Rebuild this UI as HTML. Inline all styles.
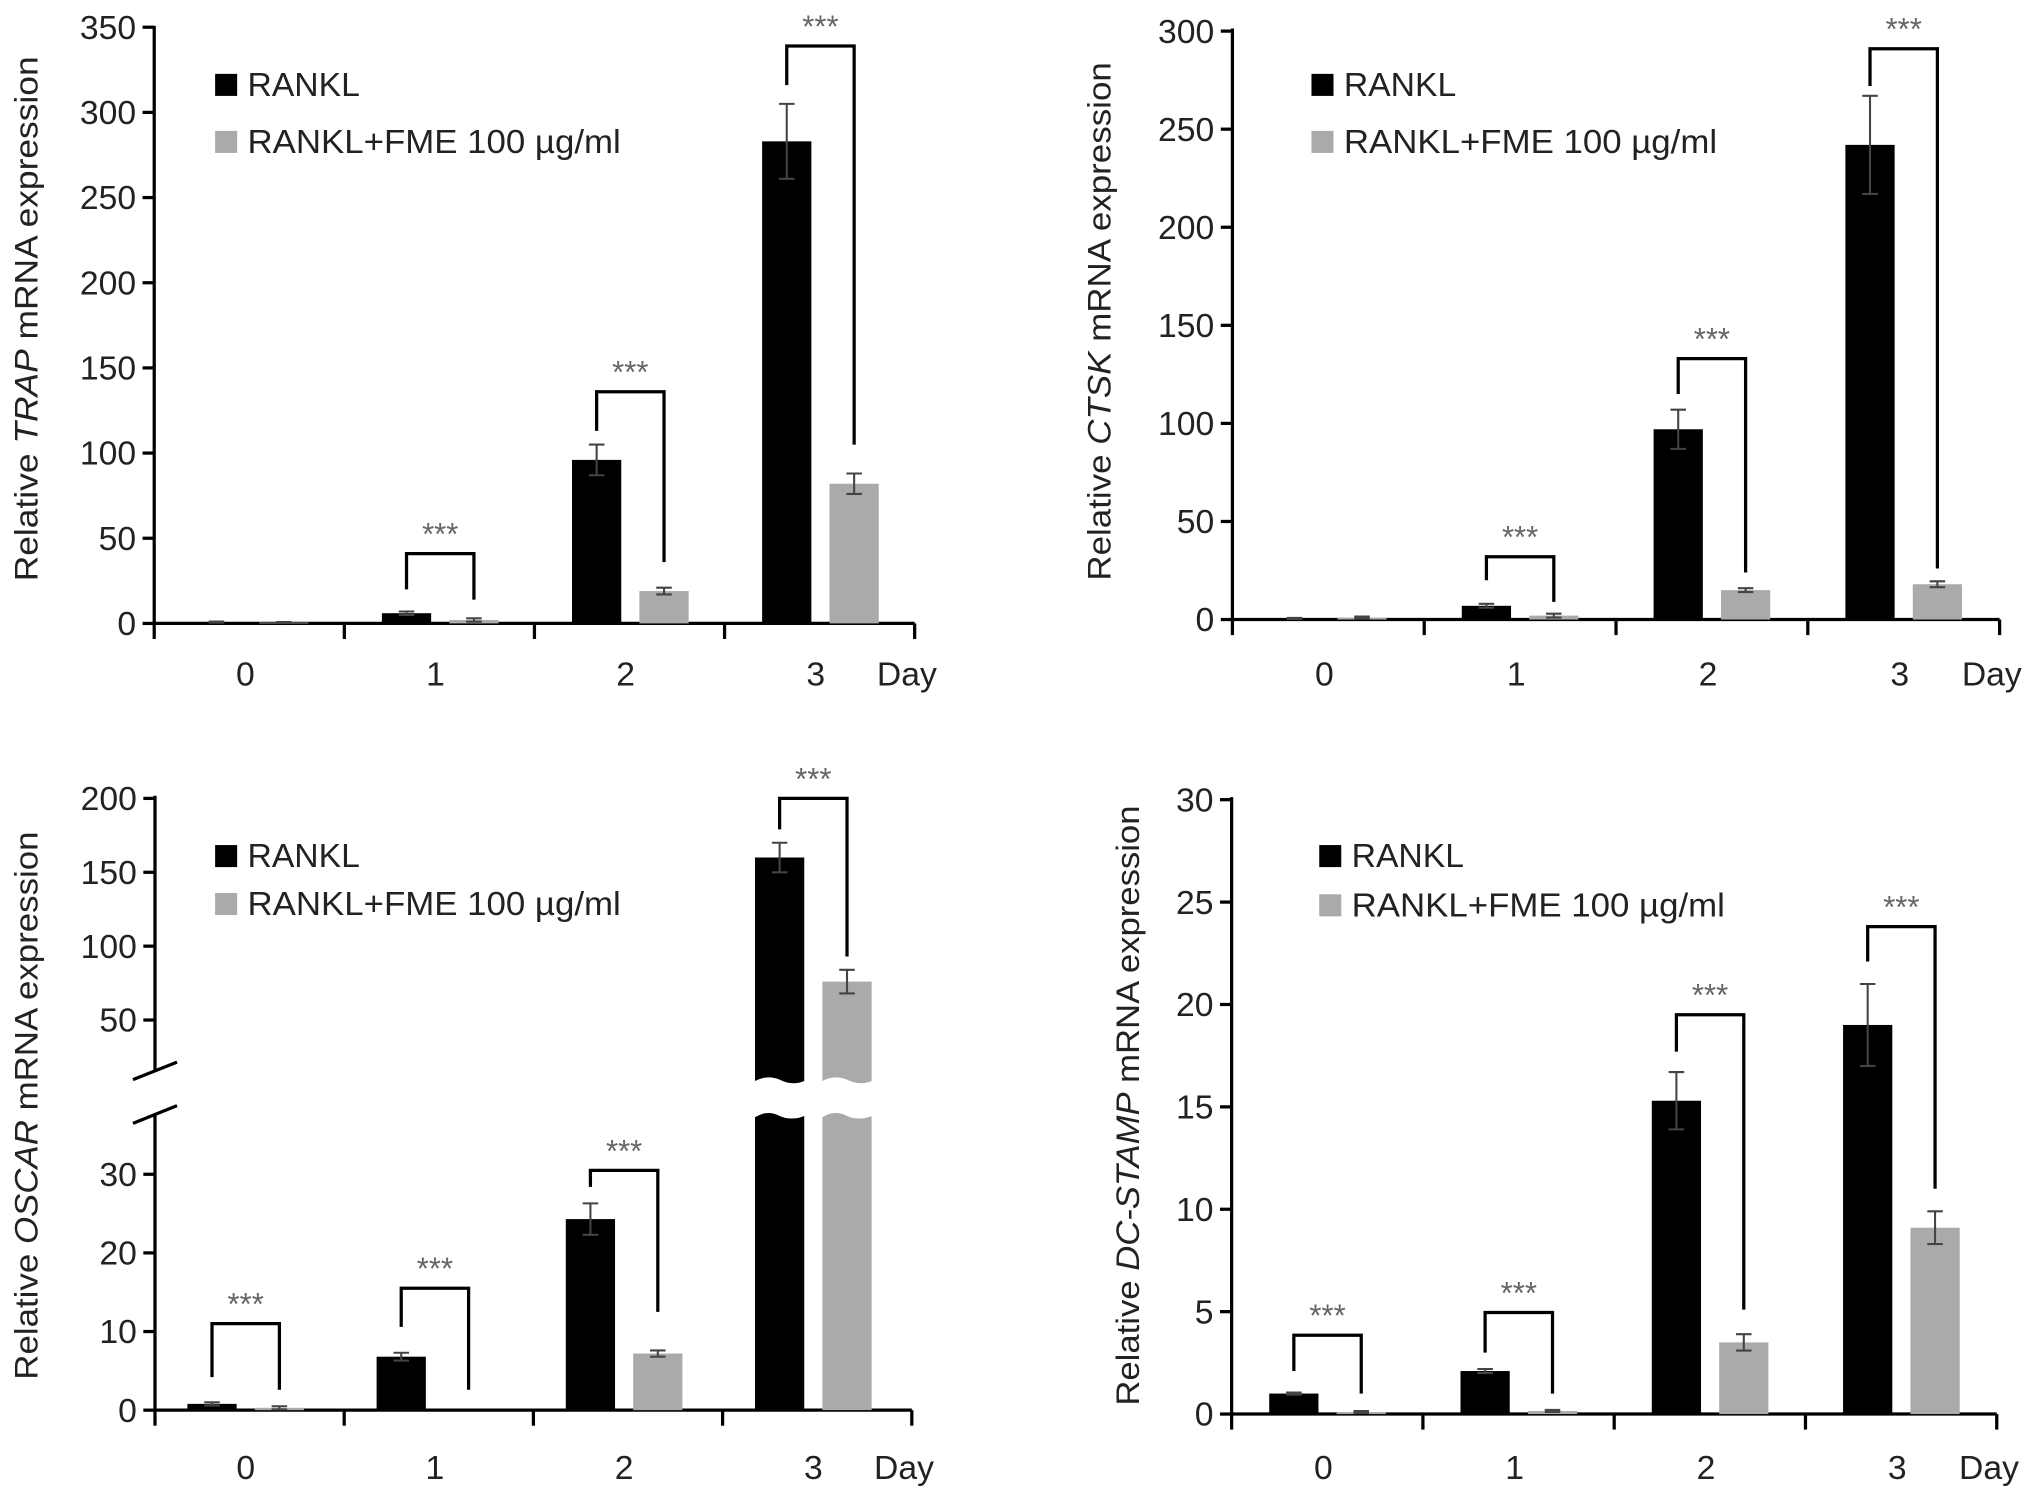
<!DOCTYPE html>
<html><head><meta charset="utf-8"><style>
html,body{margin:0;padding:0;background:#fff;}
svg{display:block;}
text{font-family:"Liberation Sans",sans-serif;}
</style></head><body>
<svg id="fig" width="2032" height="1497" viewBox="0 0 1568 1155" preserveAspectRatio="none" xmlns="http://www.w3.org/2000/svg"></svg>
<script>
const days = ["0","1","2","3"];
// Panel A: TRAP
const trapRankl = [0.8, 6, 96, 283];
const trapRanklErr = [0.3, 1, 9, 22];
const trapFme = [0.5, 2, 19, 82];
const trapFmeErr = [0.3, 1, 2, 6];
const trapTicks = [0,50,100,150,200,250,300,350];
const trapBrTop = [null, 41, 136, 339];
const trapBrL = [null, 20, 113, 316];
const trapBrR = [null, 14, 36, 105];
// Panel B: CTSK
const ctskRankl = [0.5, 7, 97, 242];
const ctskRanklErr = [0.3, 1, 10, 25];
const ctskFme = [1, 2, 15, 18];
const ctskFmeErr = [0.5, 1, 1, 1.5];
const ctskTicks = [0,50,100,150,200,250,300];
const ctskBrTop = [null, 32, 133, 291];
const ctskBrL = [null, 20, 115, 272];
const ctskBrR = [null, 9, 24, 26];
// Panel C: OSCAR (broken axis)
const oscarRankl = [0.8, 6.8, 24.3, 160];
const oscarRanklErr = [0.2, 0.5, 2, 10];
const oscarFme = [0.3, 0, 7.2, 76];
const oscarFmeErr = [0.2, 0, 0.4, 8];
const oscarTicksLow = [0,10,20,30];
const oscarTicksHigh = [50,100,150,200];
const oscarBrTop = [11, 15.5, 30.5, 200];
const oscarBrL = [4.2, 10.6, 28.4, 179];
const oscarBrR = [2.6, 2.6, 12.5, 93];
// Panel D: DC-STAMP
const dcRankl = [1.0, 2.1, 15.3, 19];
const dcRanklErr = [0.05, 0.1, 1.4, 2];
const dcFme = [0.1, 0.15, 3.5, 9.1];
const dcFmeErr = [0.05, 0.05, 0.4, 0.8];
const dcTicks = [0,5,10,15,20,25,30];
const dcBrTop = [3.85, 4.96, 19.5, 23.8];
const dcBrL = [2.1, 3.0, 17.7, 22.1];
const dcBrR = [1.0, 1.0, 5.1, 11.0];

const NS="http://www.w3.org/2000/svg";
const svg=document.getElementById('fig');
function mk(tag, attrs, parent){
  const e=document.createElementNS(NS,tag);
  for(const k in attrs) e.setAttribute(k, attrs[k]);
  (parent||svg).appendChild(e);
  return e;
}

function panel(p){
  const g=mk('g',{});
  
  
  const x0=p.x0, gw=p.gw, y=p.y;
  const yb=p.yBase;
  if(p.broken){
    const a1=mk('line',{x1:x0,y1:p.yTop,x2:x0,y2:827,stroke:'#000','stroke-width':2.5},g);
    
    
    const a2=mk('line',{x1:x0,y1:860,x2:x0,y2:yb,stroke:'#000','stroke-width':2.5},g);
    
    
    const s1=mk('line',{x1:x0-17,y1:833,x2:x0+17,y2:819.5,stroke:'#000','stroke-width':2.5},g);
    
    
    const s2=mk('line',{x1:x0-17,y1:866.7,x2:x0+17,y2:853,stroke:'#000','stroke-width':2.5},g);
    
    
  } else {
    const a=mk('line',{x1:x0,y1:p.yTop,x2:x0,y2:yb,stroke:'#000','stroke-width':2.5},g);
    
    
  }
  const xa=mk('line',{x1:x0,y1:yb,x2:x0+4*gw,y2:yb,stroke:'#000','stroke-width':2.5},g);
  
  
  for(let i=0;i<=4;i++){
    const t=mk('line',{x1:x0+i*gw,y1:yb,x2:x0+i*gw,y2:yb+12,stroke:'#000','stroke-width':2.5},g);
    
    
  }
  p.ticks.forEach(v=>{
    const ty=y(v);
    const t=mk('line',{x1:x0-9,y1:ty,x2:x0,y2:ty,stroke:'#000','stroke-width':2.5},g);
    
    
    const tl=mk('text',{x:x0-14,y:ty+9,'text-anchor':'end','font-size':26,fill:'#222'},g);
    tl.textContent=v;
    
    
  });
  days.forEach((d,i)=>{
    const t=mk('text',{x:x0+i*gw+gw/2-3,y:p.xLabY,'text-anchor':'middle','font-size':26,fill:'#222'},g);
    t.textContent=d;
    
    
  });
  const dl=mk('text',{x:x0+4*gw-6,y:p.xLabY,'text-anchor':'middle','font-size':26,fill:'#222'},g);
  dl.textContent='Day';
  
  
  const tt=mk('text',{x:0,y:0,'text-anchor':'middle','font-size':25,fill:'#222',transform:`translate(${p.titleX},${p.titleY}) rotate(-90)`,textLength:p.titleLen,lengthAdjust:'spacingAndGlyphs'},g);
  
  
  tt.appendChild(document.createTextNode('Relative '));
  const it=mk('tspan',{'font-style':'italic'},tt); it.textContent=p.gene;
  tt.appendChild(document.createTextNode(' mRNA expression'));
  const lg=mk('g',{},g);
  
  
  [['#000','RANKL',p.legY1,null],['#aaa','RANKL+FME 100 µg/ml',p.legY2,288]].forEach((e,k)=>{
    const r=mk('rect',{x:p.legX,y:e[2]-16,width:17,height:17,fill:e[0]},lg);
    
    
    const at={x:p.legX+25,y:e[2]+1,'font-size':26,fill:'#222'};
    if(e[3]){at.textLength=e[3];at.lengthAdjust='spacingAndGlyphs';}
    const t=mk('text',at,lg);
    t.textContent=e[1];
    
    
  });
  const bw=38;
  [[p.a,p.ae,'#000',p.offA,'rankl'],[p.b,p.be,'#aaa',p.offB,'fme']].forEach(s=>{
    s[0].forEach((v,i)=>{
      const bx=x0+i*gw+s[3];
      const top=y(v);
      if(p.broken && v>36){
        const r1=mk('path',{d:`M${bx},${yb} L${bx},${862} Q${bx+bw*0.25},${856} ${bx+bw/2},${861} Q${bx+bw*0.75},${865} ${bx+bw},${861} L${bx+bw},${yb} Z`,fill:s[2]},g);
        
        
        const r2=mk('path',{d:`M${bx},${top} L${bx+bw},${top} L${bx+bw},${834} Q${bx+bw*0.75},${838} ${bx+bw/2},${833} Q${bx+bw*0.25},${829} ${bx},${834} Z`,fill:s[2]},g);
        
        
      } else {
        const r=mk('rect',{x:bx,y:top,width:bw,height:Math.max(yb-top,0),fill:s[2]},g);
        
        
      }
      const e=s[1][i];
      if(v>0 && e>0){
        const cx=bx+bw/2, y1=y(v+e), y2=y(Math.max(v-e,0));
        const eg=mk('path',{d:`M${cx},${y1} L${cx},${y2} M${cx-6},${y1} L${cx+6},${y1} M${cx-6},${y2} L${cx+6},${y2}`,stroke:'#444','stroke-width':1.6,fill:'none'},g);
        
        
      }
    });
  });
  p.brTop.forEach((t,i)=>{
    if(t===null) return;
    const lx=x0+i*gw+p.offA+19, rx=x0+i*gw+p.offB+19;
    const ty=y(t);
    const br=mk('path',{d:`M${lx},${y(p.brL[i])} L${lx},${ty} L${rx},${ty} L${rx},${y(p.brR[i])}`,stroke:'#000','stroke-width':2.5,fill:'none'},g);
    
    
    const st=mk('text',{x:(lx+rx)/2,y:ty-7,'text-anchor':'middle','font-size':24,fill:'#666'},g);
    st.textContent='***';
    
    
  });
}

function lin(v0,y0,v1,y1){return v=>y0+(v-v0)*(y1-y0)/(v1-v0);}
const oLow=lin(0,1088,30,906), oHigh=lin(50,787,200,616);

panel({name:'trap-chart',gene:'TRAP',x0:119,gw:146.7,yBase:481,yTop:20,y:lin(0,481,350,21),ticks:trapTicks,
  a:trapRankl,ae:trapRanklErr,b:trapFme,be:trapFmeErr,offA:29,offB:81,brTop:trapBrTop,brL:trapBrL,brR:trapBrR,
  xLabY:529,titleX:29,titleY:246,titleLen:405,legX:166,legY1:73,legY2:117});
panel({name:'ctsk-chart',gene:'CTSK',x0:951,gw:148,yBase:478,yTop:22,y:lin(0,478,300,24),ticks:ctskTicks,
  a:ctskRankl,ae:ctskRanklErr,b:ctskFme,be:ctskFmeErr,offA:29,offB:81,brTop:ctskBrTop,brL:ctskBrL,brR:ctskBrR,
  xLabY:529,titleX:857,titleY:248,titleLen:400,legX:1012,legY1:73,legY2:117});
panel({name:'oscar-chart',gene:'OSCAR',x0:119.6,gw:146,yBase:1088,yTop:614,broken:true,
  y:v=>v<=36?oLow(v):oHigh(v),ticks:oscarTicksLow.concat(oscarTicksHigh),
  a:oscarRankl,ae:oscarRanklErr,b:oscarFme,be:oscarFmeErr,offA:25,offB:77,brTop:oscarBrTop,brL:oscarBrL,brR:oscarBrR,
  xLabY:1141,titleX:29,titleY:853,titleLen:423,legX:166,legY1:668,legY2:705});
panel({name:'dc-stamp-chart',gene:'DC-STAMP',x0:950.4,gw:147.6,yBase:1091,yTop:615,y:lin(0,1091,30,617),ticks:dcTicks,
  a:dcRankl,ae:dcRanklErr,b:dcFme,be:dcFmeErr,offA:29,offB:81,brTop:dcBrTop,brL:dcBrL,brR:dcBrR,
  xLabY:1141,titleX:879,titleY:853,titleLen:463,legX:1018,legY1:668,legY2:706});
</script>
</body></html>
